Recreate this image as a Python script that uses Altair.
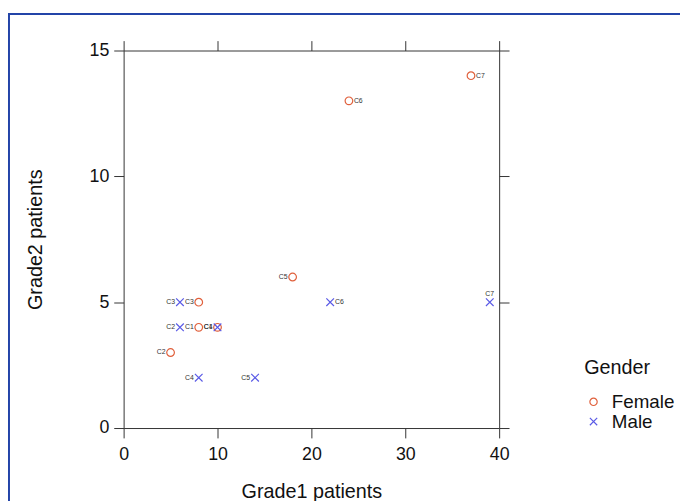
import altair as alt
import pandas as pd

# ---- data ----
genders = ["Female"] * 7 + ["Male"] * 7
codes = ["C1", "C2", "C3", "C4", "C5", "C6", "C7",
         "C1", "C2", "C3", "C4", "C5", "C6", "C7"]
grade1 = [8, 5, 8, 10, 18, 24, 37,
          10, 6, 6, 8, 14, 22, 39]
grade2 = [4, 3, 5, 4, 6, 13, 14,
          4, 4, 5, 2, 2, 5, 5]
label_side = ["left", "left", "left", "left", "left", "right", "right",
              "left", "left", "left", "left", "left", "right", "top"]

x_ticks = [0, 10, 20, 30, 40]
y_ticks = [0, 5, 10, 15]

df = pd.DataFrame({
    "Gender": genders,
    "code": codes,
    "Grade1": grade1,
    "Grade2": grade2,
    "side": label_side,
})

FONT = "Liberation Sans"
X_PATH = "M-1,-1L1,1M1,-1L-1,1"

xs = alt.Scale(domain=[0, 40], nice=False, zero=False)
ys = alt.Scale(domain=[0, 15], nice=False, zero=False)

color_scale = alt.Scale(domain=["Female", "Male"], range=["#E0603C", "#5A5AE6"])
shape_scale = alt.Scale(domain=["Female", "Male"], range=["circle", X_PATH])

base = alt.Chart(df)

points = base.mark_point(filled=False, size=60, strokeWidth=1.2, opacity=1).encode(
    x=alt.X("Grade1:Q", scale=xs,
            axis=alt.Axis(title="Grade1 patients", values=x_ticks, orient="bottom",
                          grid=False, tickSize=10, labelPadding=8, titlePadding=18,
                          labelFlush=False, labelBound=False)),
    y=alt.Y("Grade2:Q", scale=ys,
            axis=alt.Axis(title="Grade2 patients", values=y_ticks, orient="left",
                          grid=False, tickSize=10, labelPadding=5, titlePadding=44,
                          labelFlush=False)),
    color=alt.Color("Gender:N", scale=color_scale,
                    legend=alt.Legend(title="Gender", orient="none", legendX=466, legendY=311)),
    shape=alt.Shape("Gender:N", scale=shape_scale, legend=alt.Legend(title="Gender")),
)

# frame axes on top and right (ticks only)
frame = base.mark_point(opacity=0).encode(
    x=alt.X("Grade1:Q", scale=xs,
            axis=alt.Axis(title=None, values=x_ticks, orient="top", labels=False,
                          grid=False, tickSize=10)),
    y=alt.Y("Grade2:Q", scale=ys,
            axis=alt.Axis(title=None, values=y_ticks, orient="right", labels=False,
                          grid=False, tickSize=10)),
)

txt_kw = dict(fontSize=7, font=FONT, color="#333333")
enc = dict(x=alt.X("Grade1:Q", scale=xs, axis=None),
           y=alt.Y("Grade2:Q", scale=ys, axis=None),
           text="code:N")
lab_left = base.transform_filter(alt.datum.side == "left").mark_text(
    align="right", baseline="middle", dx=-5, **txt_kw).encode(**enc)
lab_right = base.transform_filter(alt.datum.side == "right").mark_text(
    align="left", baseline="middle", dx=5, **txt_kw).encode(**enc)
lab_top = base.transform_filter(alt.datum.side == "top").mark_text(
    align="center", baseline="bottom", dy=-5, **txt_kw).encode(**enc)

# decorative blue page border
border = alt.Chart(pd.DataFrame({"a": [0]})).mark_rect(
    fill=None, stroke="#2344A8", strokeWidth=2, clip=False).encode(
    x=alt.value(-116), x2=alt.value(700), y=alt.value(-37), y2=alt.value(600))

chart = alt.layer(border, frame, points, lab_left, lab_right, lab_top).resolve_axis(
    x="independent", y="independent"
).properties(
    width=380, height=382,
    autosize=alt.AutoSizeParams(type="none"),
    padding={"left": 117, "top": 40, "right": 183, "bottom": 86},
).configure_view(stroke=None).configure_axis(
    labelFont=FONT, titleFont=FONT, labelFontSize=18, titleFontSize=20,
    labelColor="#111111", titleColor="#111111", titleFontWeight="normal",
    domainColor="#333333", tickColor="#333333", domainWidth=1, tickWidth=1,
).configure_legend(
    titleFont=FONT, labelFont=FONT, titleFontSize=20, labelFontSize=19,
    titleFontWeight="normal", titleColor="#111111", labelColor="#111111",
    symbolSize=55, symbolStrokeWidth=1.2, rowPadding=0, titlePadding=15,
    labelOffset=9,
)

chart.save("out.html", embed_options={"renderer": "svg", "actions": False})
